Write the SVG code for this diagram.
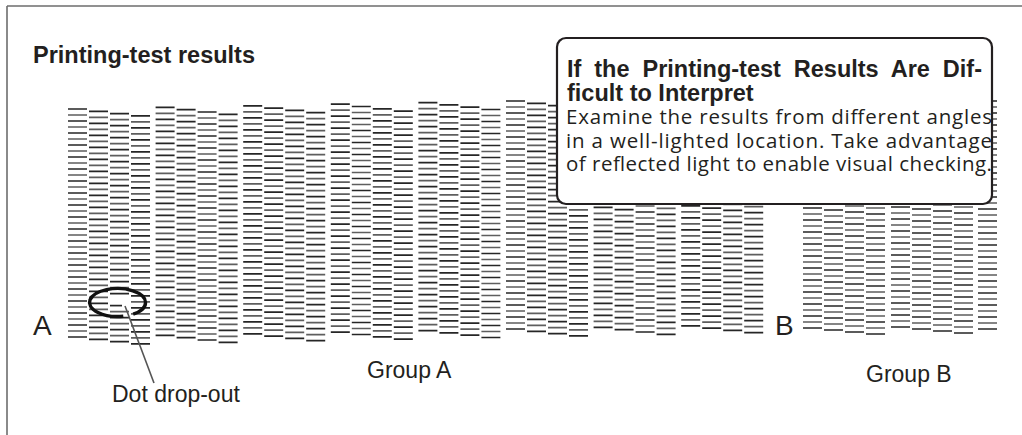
<svg xmlns="http://www.w3.org/2000/svg" xmlns:xlink="http://www.w3.org/1999/xlink" width="1022" height="435" viewBox="0 0 1022 435">
  <style>
    .frame { stroke: #6d6d6d; stroke-width: 1.6; fill: none; }
    .d1 { stroke: #262626; stroke-width: 19; stroke-dasharray: 1.7 10.3; fill: none; }
    .d2 { stroke: #5e5e5e; stroke-width: 19; stroke-dasharray: 1.7 10.3; fill: none; }
    .lbl { font-family: "Liberation Sans", Arial, sans-serif; fill: #231f20; }
    .big { font-size: 28px; }
    .cap { font-size: 23px; }
    .bold { font-weight: bold; }
    .body { font-family: "Open Sans", "Noto Sans", sans-serif; font-size: 20.5px; fill: #231f20; }
    .box { fill: #ffffff; stroke: #231f20; stroke-width: 2.2; }
    .leader { stroke: #555555; stroke-width: 1.6; fill: none; }
    .ring { stroke: #111111; stroke-width: 3.4; fill: none; }
  </style>
  <defs>
    <g id="col">
      <line class="d1" x1="9.5" y1="-0.85" x2="9.5" y2="228.85"/>
      <line class="d2" x1="9.5" y1="5.15" x2="9.5" y2="222.85"/>
    </g>
  </defs>

  <g id="frame">
    <line class="frame" x1="7" y1="6" x2="1022" y2="6"/>
    <line class="frame" x1="7" y1="6" x2="7" y2="435"/>
  </g>

  <g id="title">
    <text class="lbl bold" x="33" y="63" style="font-size:23.5px">Printing-test results</text>
  </g>

  <g id="pattern-group-a">
    <use xlink:href="#col" x="68" y="109"/>
    <use xlink:href="#col" x="89" y="111.3"/>
    <g id="dropout-column" transform="translate(110,113.6)">
      <line class="d1" x1="9.5" y1="-0.85" x2="9.5" y2="180.85"/>
      <line class="d2" x1="9.5" y1="5.15" x2="9.5" y2="174.85"/>
      <line x1="0" y1="192" x2="12" y2="192" stroke="#262626" stroke-width="1.7"/>
      <line class="d2" x1="9.5" y1="197.15" x2="9.5" y2="222.85"/>
      <line class="d1" x1="9.5" y1="203.15" x2="9.5" y2="228.85"/>
    </g>
    <use xlink:href="#col" x="131" y="115.9"/>

    <use xlink:href="#col" x="155.6" y="107.4"/>
    <use xlink:href="#col" x="176.6" y="109.7"/>
    <use xlink:href="#col" x="197.6" y="112"/>
    <use xlink:href="#col" x="218.6" y="114.3"/>

    <use xlink:href="#col" x="243.2" y="105.8"/>
    <use xlink:href="#col" x="264.2" y="108.1"/>
    <use xlink:href="#col" x="285.2" y="110.4"/>
    <use xlink:href="#col" x="306.2" y="112.7"/>

    <use xlink:href="#col" x="330.8" y="104.2"/>
    <use xlink:href="#col" x="351.8" y="106.5"/>
    <use xlink:href="#col" x="372.8" y="108.8"/>
    <use xlink:href="#col" x="393.8" y="111.1"/>

    <use xlink:href="#col" x="418.4" y="102.6"/>
    <use xlink:href="#col" x="439.4" y="104.9"/>
    <use xlink:href="#col" x="460.4" y="107.2"/>
    <use xlink:href="#col" x="481.4" y="109.5"/>

    <use xlink:href="#col" x="506" y="101"/>
    <use xlink:href="#col" x="527" y="103.3"/>
    <use xlink:href="#col" x="548" y="105.6"/>
    <use xlink:href="#col" x="569" y="107.9"/>

    <use xlink:href="#col" x="593.6" y="99.4"/>
    <use xlink:href="#col" x="614.6" y="101.7"/>
    <use xlink:href="#col" x="635.6" y="104"/>
    <use xlink:href="#col" x="656.6" y="106.3"/>

    <use xlink:href="#col" x="681.2" y="97.8"/>
    <use xlink:href="#col" x="702.2" y="100.1"/>
    <use xlink:href="#col" x="723.2" y="102.4"/>
    <use xlink:href="#col" x="744.2" y="104.7"/>
  </g>

  <g id="pattern-group-b">
    <use xlink:href="#col" x="803" y="100"/>
    <use xlink:href="#col" x="824" y="102"/>
    <use xlink:href="#col" x="845" y="104"/>
    <use xlink:href="#col" x="866" y="106"/>

    <use xlink:href="#col" x="891" y="99"/>
    <use xlink:href="#col" x="912" y="101"/>
    <use xlink:href="#col" x="933" y="103"/>
    <use xlink:href="#col" x="954" y="105"/>

    <use xlink:href="#col" x="978" y="101"/>
  </g>

  <g id="label-a">
    <text class="lbl big" x="33" y="335">A</text>
  </g>
  <g id="label-b">
    <text class="lbl big" x="775" y="335">B</text>
  </g>
  <g id="label-group-a">
    <text class="lbl cap" x="367" y="378">Group A</text>
  </g>
  <g id="label-group-b">
    <text class="lbl cap" x="866" y="382">Group B</text>
  </g>

  <g id="dropout-marker">
    <path class="ring" d="M123.3,316.2 A28,14 0 1,1 133.2,314.1"/>
  </g>

  <g id="connectors">
    <line class="leader" x1="125" y1="306" x2="154" y2="383"/>
  </g>

  <g id="label-dropout">
    <text class="lbl cap" x="112" y="402">Dot drop-out</text>
  </g>

  <g id="callout">
    <rect class="box" x="557" y="38" width="435" height="166" rx="9" ry="9"/>
    <text class="lbl bold" x="567" y="77" style="font-size:23.5px; word-spacing:6.4px">If the Printing-test Results Are Dif-</text>
    <text class="lbl bold" x="567" y="101" style="font-size:23.5px">ficult to Interpret</text>
    <text class="body" x="566" y="124" textLength="426" lengthAdjust="spacing">Examine the results from different angles</text>
    <text class="body" x="566" y="147.5" textLength="426" lengthAdjust="spacing">in a well-lighted location. Take advantage</text>
    <text class="body" x="566" y="171" textLength="426" lengthAdjust="spacing">of reflected light to enable visual checking.</text>
  </g>
</svg>
